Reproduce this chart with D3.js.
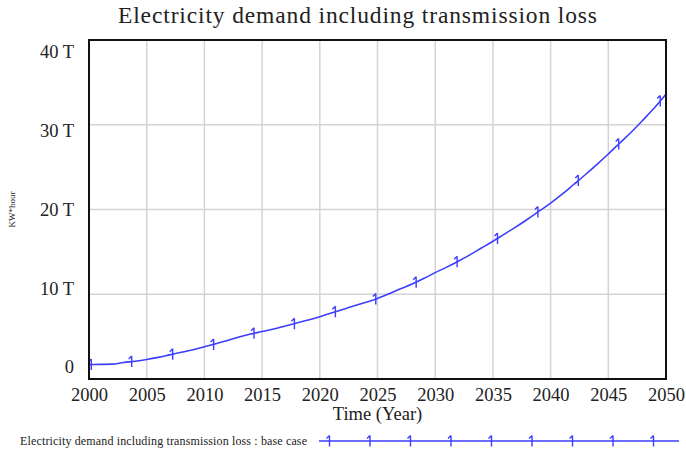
<!DOCTYPE html>
<html>
<head>
<meta charset="utf-8">
<script src="https://cdn.jsdelivr.net/npm/d3@7"></script>
<style>
  html, body { margin: 0; padding: 0; background: #fff; }
  svg { display: block; }
  text { font-family: "Liberation Serif", "Times New Roman", serif; fill: #222; }
</style>
</head>
<body>
<svg id="chart" width="686" height="450"></svg>
<script>
// Electricity demand including transmission loss, base case (kWh per year)
const years = d3.range(2000, 2051);
const demand = [
  1.70, 1.72, 1.75, 1.95, 2.10, 2.30, 2.55, 2.85, 3.15, 3.45,
  3.80, 4.15, 4.55, 4.95, 5.30, 5.60, 5.90, 6.25, 6.60, 6.95,
  7.35, 7.80, 8.20, 8.65, 9.05, 9.50, 10.05, 10.65, 11.20, 11.85,
  12.55, 13.20, 13.90, 14.65, 15.45, 16.25, 17.10, 17.95, 18.85, 19.80,
  20.75, 21.80, 22.95, 24.10, 25.30, 26.55, 27.85, 29.15, 30.55, 32.00,
  33.60
].map(v => v * 1e12);
const markerYears = [2000.2, 2003.7, 2007.25, 2010.8, 2014.3, 2017.8, 2021.35,
  2024.85, 2028.35, 2031.9, 2035.4, 2038.9, 2042.4, 2045.9, 2049.5];
const xTicks = d3.range(2000, 2051, 5);
const yTicks = [0, 10e12, 20e12, 30e12, 40e12];
const titleText = "Electricity demand including transmission loss";
const xLabel = "Time (Year)";
const yLabel = "KW*hour";
const legendText = "Electricity demand including transmission loss : base case";

const svg = d3.select("#chart");
const margin = { left: 89, right: 20, top: 40, bottom: 71 };
const W = 686, H = 450;
const x = d3.scaleLinear().domain([2000, 2050]).range([margin.left, W - margin.right]);
const y = d3.scaleLinear().domain([0, 40e12]).range([H - margin.bottom, margin.top]);
// value labels are spread evenly inside the frame, kept clear of its edges
const yLabelPos = d3.scaleLinear().domain([0, 40e12]).range([y(0) - 12, y(40e12) + 12]);
const lineColor = "#3d3dff";

// grid
svg.append("g").selectAll("line").data(xTicks.slice(1, -1)).join("line")
  .attr("x1", d => x(d)).attr("x2", d => x(d))
  .attr("y1", y(0)).attr("y2", y(40e12))
  .attr("stroke", "#d4d4d4").attr("stroke-width", 1.5);
svg.append("g").selectAll("line").data(yTicks.slice(1, -1)).join("line")
  .attr("x1", x(2000)).attr("x2", x(2050))
  .attr("y1", d => y(d)).attr("y2", d => y(d))
  .attr("stroke", "#d4d4d4").attr("stroke-width", 1.5);

// axes (labels only; frame drawn separately)
const fmt = d => d === 0 ? "0" : (d / 1e12) + " T";
const yAxis = svg.append("g").attr("transform", `translate(${x(2000)},0)`)
  .call(d3.axisLeft(yLabelPos).tickValues(yTicks).tickFormat(fmt).tickSize(0).tickPadding(15));
const xAxis = svg.append("g").attr("transform", `translate(0,${y(0)})`)
  .call(d3.axisBottom(x).tickValues(xTicks).tickFormat(d3.format("d")).tickSize(0).tickPadding(9));
[yAxis, xAxis].forEach(g => {
  g.select(".domain").remove();
  g.selectAll("text").attr("font-family", "Liberation Serif, serif")
    .attr("font-size", 18.5).attr("fill", "#222");
});

// series line
const line = d3.line().x((d, i) => x(years[i])).y(d => y(d)).curve(d3.curveMonotoneX);
svg.append("path").datum(demand).attr("d", line)
  .attr("fill", "none").attr("stroke", lineColor).attr("stroke-width", 1.6);

// marker glyph: small "1"
function marker(g, cx, cy) {
  g.append("path")
    .attr("d", `M${cx},${cy - 5.5}V${cy + 5.5}M${cx - 3},${cy - 2.5}L${cx},${cy - 5.5}`)
    .attr("stroke", lineColor).attr("stroke-width", 1.4).attr("fill", "none");
}
const interp = d3.scaleLinear().domain(years).range(demand);
const mg = svg.append("g");
markerYears.forEach(yr => marker(mg, x(yr), y(interp(yr))));

// frame
svg.append("rect").attr("x", x(2000)).attr("y", y(40e12))
  .attr("width", x(2050) - x(2000)).attr("height", y(0) - y(40e12))
  .attr("fill", "none").attr("stroke", "#111").attr("stroke-width", 2);

// title and axis labels
svg.append("text").attr("x", 357.5).attr("y", 23).attr("text-anchor", "middle")
  .attr("font-size", 23.5).attr("textLength", 479).attr("lengthAdjust", "spacing")
  .text(titleText);
svg.append("text").attr("x", (x(2000) + x(2050)) / 2).attr("y", 420)
  .attr("text-anchor", "middle").attr("font-size", 18.5).text(xLabel);
svg.append("text").attr("transform", `translate(15,${(y(0) + y(40e12)) / 2}) rotate(-90)`)
  .attr("text-anchor", "middle").attr("font-size", 9).text(yLabel);

// legend
svg.append("text").attr("x", 20).attr("y", 445).attr("font-size", 12)
  .attr("textLength", 287).attr("lengthAdjust", "spacing").text(legendText);
const lx0 = 319, lx1 = 679, ly = 441;
svg.append("line").attr("x1", lx0).attr("x2", lx1).attr("y1", ly).attr("y2", ly)
  .attr("stroke", lineColor).attr("stroke-width", 1.6);
const lg = svg.append("g");
d3.range(9).forEach(i => marker(lg, 329.5 + i * 40.5, ly));
</script>
</body>
</html>
